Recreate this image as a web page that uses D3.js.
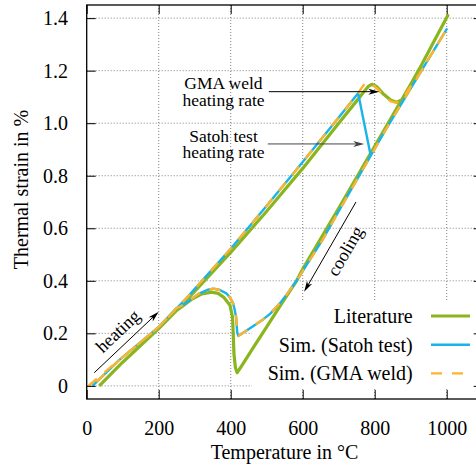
<!DOCTYPE html>
<html>
<head>
<meta charset="utf-8">
<script src="https://cdn.jsdelivr.net/npm/d3@7"></script>
<style>
  body { margin: 0; background: #fff; }
  svg { display: block; font-family: "Liberation Serif", "DejaVu Serif", serif; }
</style>
</head>
<body>
<svg id="chart" width="476" height="466"></svg>
<script>
// tick values
var xTicks = [0, 200, 400, 600, 800, 1000];
var yTicks = [0, 0.2, 0.4, 0.6, 0.8, 1.0, 1.2, 1.4];

// Literature: heating then cooling (temperature in °C, strain in %)
var litHeatT = [35, 100, 200, 300, 400, 500, 600, 700, 750, 770, 782, 792, 805, 825, 845, 861, 875, 890, 905, 930, 960, 1003];
var litHeatS = [0, 0.09, 0.218, 0.36, 0.508, 0.665, 0.828, 1.0, 1.085, 1.12, 1.14, 1.148, 1.14, 1.11, 1.087, 1.08, 1.088, 1.115, 1.155, 1.222, 1.30, 1.41];
var litCoolT = [1003, 960, 930, 900, 850, 800, 700, 600, 583, 540, 500, 460, 430, 418, 413, 409, 407, 405, 398, 380, 365, 347, 320, 290, 265, 248, 200, 100, 35];
var litCoolS = [1.41, 1.30, 1.222, 1.148, 1.03, 0.912, 0.676, 0.445, 0.40, 0.31, 0.225, 0.14, 0.075, 0.05, 0.07, 0.123, 0.2, 0.262, 0.307, 0.338, 0.352, 0.357, 0.35, 0.328, 0.302, 0.285, 0.218, 0.09, 0];

// Sim. (Satoh test)
var satHeatT = [16, 90, 200, 276, 400, 500, 600, 700, 754, 789, 829, 930, 1000];
var satHeatS = [0, 0.098, 0.224, 0.332, 0.522, 0.686, 0.852, 1.022, 1.114, 0.876, 0.972, 1.20, 1.358];

// Sim. (GMA weld)
var gmaHeatT = [5, 90, 200, 276, 400, 500, 600, 700, 754, 765, 776, 790, 808, 826, 845, 860, 875, 895, 930, 1000];
var gmaHeatS = [0, 0.098, 0.224, 0.332, 0.522, 0.686, 0.852, 1.022, 1.114, 1.137, 1.155, 1.15, 1.13, 1.103, 1.083, 1.078, 1.09, 1.13, 1.20, 1.358];

// cooling of both simulations
var simCoolT = [1000, 930, 829, 789, 700, 655, 600, 583, 560, 537, 510, 490, 460, 440, 421, 418, 415, 411, 407, 398, 389, 370, 352, 336, 310, 290, 270, 248, 200, 90, 16];
var simCoolS = [1.358, 1.20, 0.972, 0.876, 0.665, 0.556, 0.437, 0.40, 0.356, 0.315, 0.275, 0.253, 0.225, 0.207, 0.19, 0.205, 0.262, 0.29, 0.313, 0.337, 0.351, 0.365, 0.37, 0.366, 0.35, 0.33, 0.31, 0.294, 0.224, 0.098, 0];

var svg = d3.select("#chart");
var pLeft = 86.7, pRight = 482.7, pTop = 5, pBottom = 399;

var x = d3.scaleLinear().domain([0, 1100]).range([pLeft, pRight]);
var y = d3.scaleLinear().domain([-0.05, 1.45]).range([pBottom, pTop]);

function pts(T, S) { return T.map(function (t, i) { return [t, S[i]]; }); }

var series = [
    { name: "Literature", color: "#8ab51c", width: 3.2, dash: null,
      data: pts(litHeatT, litHeatS).concat(pts(litCoolT, litCoolS)) },
    { name: "Sim. (Satoh test)", color: "#1ab3ea", width: 2.4, dash: null,
      data: pts(satHeatT, satHeatS).concat(pts(simCoolT, simCoolS)) },
    { name: "Sim. (GMA weld)", color: "#fbb42c", width: 2.4, dash: "11,10",
      data: pts(gmaHeatT, gmaHeatS).concat(pts(simCoolT, simCoolS)) }
];

// grid
var grid = svg.append("g").attr("stroke", "#808080").attr("stroke-width", 1).attr("stroke-dasharray", "1,2");
grid.selectAll(".gx").data(xTicks.filter(function (d) { return d > 0; }))
    .enter().append("line")
    .attr("x1", function (d) { return x(d); }).attr("x2", function (d) { return x(d); })
    .attr("y1", pTop).attr("y2", pBottom);
grid.selectAll(".gy").data(yTicks)
    .enter().append("line")
    .attr("y1", function (d) { return y(d); }).attr("y2", function (d) { return y(d); })
    .attr("x1", pLeft).attr("x2", pRight);

// key background hides the grid
svg.append("rect").attr("x", 252).attr("y", 302).attr("width", 240).attr("height", 87).attr("fill", "#fff");

// curves
var line = d3.line().x(function (d) { return x(d[0]); }).y(function (d) { return y(d[1]); });
series.forEach(function (s) {
    svg.append("path")
        .attr("d", line(s.data))
        .attr("fill", "none")
        .attr("stroke", s.color)
        .attr("stroke-width", s.width)
        .attr("stroke-linejoin", "round")
        .attr("stroke-dasharray", s.dash);
});

// axes, ticks inward
function styleAxis(g) {
    g.attr("font-family", null).attr("font-size", 20);
    g.select(".domain").remove();
    g.selectAll(".tick line").attr("stroke", "#000");
    g.selectAll(".tick text").attr("fill", "#000");
}
svg.append("g").attr("transform", "translate(0," + pBottom + ")")
    .call(d3.axisBottom(x).tickValues(xTicks).tickSize(-9).tickPadding(21.8).tickFormat(d3.format("d")))
    .call(styleAxis);
svg.append("g").attr("transform", "translate(0," + pTop + ")")
    .call(d3.axisTop(x).tickValues(xTicks).tickSize(-9).tickFormat(""))
    .call(styleAxis);
svg.append("g").attr("transform", "translate(" + pLeft + ",0)")
    .call(d3.axisLeft(y).tickValues(yTicks).tickSize(-9).tickPadding(18.7)
        .tickFormat(function (d) { return d === 0 ? "0" : d3.format(".1f")(d); }))
    .call(styleAxis);
svg.append("g").attr("transform", "translate(" + pRight + ",0)")
    .call(d3.axisRight(y).tickValues(yTicks).tickSize(-9).tickFormat(""))
    .call(styleAxis);

svg.append("rect").attr("x", pLeft).attr("y", pTop).attr("width", pRight - pLeft).attr("height", pBottom - pTop)
    .attr("fill", "none").attr("stroke", "#000").attr("stroke-width", 1.3);

// axis titles
svg.append("text")
    .attr("transform", "translate(284.5,459)")
    .attr("text-anchor", "middle")
    .attr("font-size", 20)
    .text("Temperature in °C");
svg.append("text")
    .attr("transform", "translate(28,189.5) rotate(-90)")
    .attr("text-anchor", "middle")
    .attr("font-size", 20)
    .text("Thermal strain in %");

// key
var key = svg.append("g");
series.forEach(function (s, i) {
    var ky = 316 + i * 28.7;
    key.append("text").attr("x", 412.7).attr("y", ky).attr("dy", "0.35em")
        .attr("text-anchor", "end").attr("font-size", 20).text(s.name);
    key.append("line").attr("x1", 431).attr("x2", 470).attr("y1", ky).attr("y2", ky)
        .attr("stroke", s.color).attr("stroke-width", s.width).attr("stroke-dasharray", s.dash);
});

// annotations
function arrow(t1, s1, t2, s2, color) {
    var x1 = x(t1), y1 = y(s1), x2 = x(t2), y2 = y(s2);
    var a = Math.atan2(y2 - y1, x2 - x1);
    svg.append("line").attr("x1", x1).attr("y1", y1)
        .attr("x2", x2 - 6 * Math.cos(a)).attr("y2", y2 - 6 * Math.sin(a))
        .attr("stroke", color).attr("stroke-width", 1);
    svg.append("path").attr("d", "M0,0L-11,-3L-8,0L-11,3Z")
        .attr("transform", "translate(" + x2 + "," + y2 + ") rotate(" + (a * 180 / Math.PI) + ")")
        .attr("fill", color);
}
arrow(506, 1.12, 813, 1.12, "#000");
arrow(503, 0.921, 771, 0.921, "#444");
arrow(21, 0.05, 200, 0.282, "#000");
arrow(748, 0.70, 604, 0.358, "#000");

var notes = [
    { text: "GMA weld", t: 380, s: 1.13 },
    { text: "heating rate", t: 380, s: 1.064 },
    { text: "Satoh test", t: 380, s: 0.93 },
    { text: "heating rate", t: 380, s: 0.866 }
];
svg.selectAll(".note").data(notes).enter().append("text")
    .attr("x", function (d) { return x(d.t); })
    .attr("y", function (d) { return y(d.s); })
    .attr("text-anchor", "middle")
    .attr("font-size", 17.5)
    .text(function (d) { return d.text; });

svg.append("text")
    .attr("transform", "translate(117.7,331) rotate(-43.4)")
    .attr("text-anchor", "middle").attr("dy", "0.35em")
    .attr("font-size", 18)
    .text("heating");
svg.append("text")
    .attr("transform", "translate(345,251) rotate(-60)")
    .attr("text-anchor", "middle").attr("dy", "0.35em")
    .attr("font-size", 18)
    .text("cooling");
</script>
</body>
</html>
